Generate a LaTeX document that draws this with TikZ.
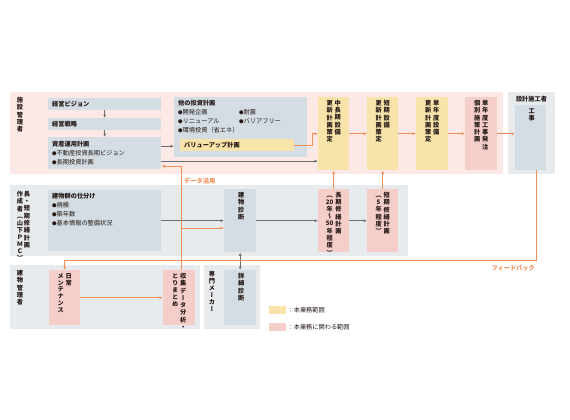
\documentclass[tikz,border=0pt]{standalone}
\usepackage{fontspec}
\setmainfont{Noto Sans CJK JP}
\newfontfamily\vjp[RawFeature=+vert]{Noto Sans CJK JP}
\usetikzlibrary{arrows.meta, positioning}
\definecolor{bandpink}{HTML}{FCE9E5}
\definecolor{bandgray}{HTML}{E8EBEE}
\definecolor{boxgray}{HTML}{D3DDE3}
\definecolor{yellowbox}{HTML}{F8E3AA}
\definecolor{pinkbox}{HTML}{F5CECA}
\definecolor{lineorange}{HTML}{F39058}
\definecolor{arrowgray}{HTML}{6D6E70}
\definecolor{inktext}{HTML}{231815}
\newcommand{\hfont}{\fontsize{6.2}{9}\selectfont}
\newcommand{\tfont}{\fontsize{6.2}{6.9}\selectfont\vjp}
\newcommand{\bul}{\raisebox{0.4pt}{\fontsize{4.5}{4}\selectfont ●}}
\newcommand{\vcol}[1]{\begin{tabular}[t]{@{}c@{}}#1\end{tabular}}
\newcommand{\tatebox}[4]{\parbox[c][#2][t]{#1}{\centering\vspace*{3pt}\tfont\bfseries\vcol{#4}\hspace{2pt}\vcol{#3}}}

\begin{document}
\begin{tikzpicture}[x=1pt, y=-1pt,
    yoko/.style={fill=#1, anchor=north west, inner xsep=4pt, inner ysep=0pt, font=\hfont, text=inktext},
    tate/.style={fill=#1, anchor=north west, inner sep=0pt, text=inktext},
    bandlabel/.style={anchor=north, inner sep=0pt, font=\tfont\bfseries, text=inktext},
    garrow/.style={-{Latex[length=3.5pt, width=3pt]}, draw=arrowgray, line width=0.9pt},
    oarrow/.style={-{Latex[length=3.5pt, width=3pt]}, draw=lineorange, line width=0.9pt},
    olabel/.style={font=\hfont\bfseries, text=lineorange, inner sep=1pt}
]
\useasboundingbox (0,0) rectangle (570,420);

\fill[bandpink] (10,92) rectangle (503,174);
\fill[bandgray] (508,92) rectangle (555,174);
\fill[bandgray] (10,185) rectangle (408,256);
\fill[bandgray] (10,265) rectangle (200,329);
\fill[bandgray] (204,265) rectangle (260,329);

\node[bandlabel] (facility) at (20,97) {\vcol{施\\設\\管\\理\\者}};
\node[bandlabel] (planner) at (23.5,191) {\vcol{作\\成\\者\\（\\山\\下\\Ｐ\\Ｍ\\Ｃ\\）}\hspace{1pt}\vcol{長\\・\\短\\期\\修\\繕\\計\\画}};
\node[bandlabel] (keeper) at (20,270) {\vcol{建\\物\\管\\理\\者}};
\node[bandlabel] (maker) at (212,271) {\vcol{専\\門\\メ\\ー\\カ\\ー}};
\node[anchor=north, inner sep=0pt, font=\hfont\bfseries, text=inktext] (builder) at (531.5,96) {設計施工者};

\node[yoko=boxgray, text width=105pt, minimum height=12pt] (vision) at (48,98) {\textbf{経営ビジョン}};
\node[yoko=boxgray, text width=105pt, minimum height=12pt] (strategy) at (48,118) {\textbf{経営戦略}};
\node[yoko=boxgray, text width=105pt, minimum height=32pt] (asset) at (48,137) {\textbf{資産運用計画}\\\bul 不動産投資長期ビジョン\\\bul 長期投資計画};
\node[yoko=boxgray, inner ysep=3pt] (other) at (174,97) {\parbox[c][54pt][t]{125pt}{\textbf{他の投資計画}\\\makebox[61pt][l]{\bul 開発企画}\bul 耐震\\\makebox[61pt][l]{\bul リニューアル}\bul バリアフリー\\\bul 環境投資（省エネ）}};
\node[yoko=yellowbox, text width=106pt, minimum height=12pt] (valueup) at (180,139) {\textbf{バリューアップ計画}};

\node[tate=yellowbox] (midlong) at (318,97) {\tatebox{31pt}{73pt}{中\\長\\期\\設\\備}{更\\新\\計\\画\\策\\定}};
\node[tate=yellowbox] (shortterm) at (367,97) {\tatebox{31pt}{73pt}{短\\期\\設\\備}{更\\新\\計\\画\\策\\定}};
\node[tate=yellowbox] (annual) at (416,97) {\tatebox{32pt}{73pt}{単\\年\\度\\設\\備}{更\\新\\計\\画\\策\\定}};
\node[tate=pinkbox] (order) at (465,97) {\tatebox{32pt}{73pt}{単\\年\\度\\工\\事\\発\\注}{個\\別\\施\\策\\計\\画}};
\node[tate=boxgray] (koji) at (515,105) {\tatebox{31pt}{65pt}{工\\事}{}};

\node[yoko=boxgray, inner ysep=3pt] (sort) at (48,190) {\parbox[c][55pt][t]{105pt}{\textbf{建物群の仕分け}\\\bul 規模\\\bul 築年数\\\bul 基本情報の整備状況}};
\node[tate=boxgray] (diag) at (224,189) {\tatebox{32pt}{63pt}{建\\物\\診\\断}{}};
\node[tate=pinkbox] (longrep) at (318,189) {\tatebox{31pt}{63pt}{長\\期\\修\\繕\\計\\画}{（\\20\\年\\～\\50\\年\\程\\度\\）}};
\node[tate=pinkbox] (shortrep) at (367,189) {\tatebox{31pt}{63pt}{短\\期\\修\\繕\\計\\画}{（\\5\\年\\程\\度\\）}};

\node[tate=pinkbox] (daily) at (49,270) {\tatebox{31pt}{55pt}{日\\常}{メ\\ン\\テ\\ナ\\ン\\ス}};
\node[tate=pinkbox] (collect) at (163,270) {\tatebox{32pt}{55pt}{収\\集\\デ\\ー\\タ\\分\\析\\・}{と\\り\\ま\\と\\め}};
\node[tate=boxgray] (detail) at (224,270) {\tatebox{32pt}{55pt}{詳\\細\\診\\断}{}};

\node[fill=yellowbox, minimum width=17pt, minimum height=8pt, inner sep=0pt, anchor=north west] (keyown) at (269,306) {};
\node[right=1pt of keyown, inner sep=0pt, font=\hfont, text=inktext] (keyowntext) {：本業務範囲};
\node[fill=pinkbox, minimum width=17pt, minimum height=8pt, inner sep=0pt, anchor=north west] (keyrel) at (269,323) {};
\node[right=1pt of keyrel, inner sep=0pt, font=\hfont, text=inktext] (keyreltext) {：本業務に関わる範囲};

\draw[garrow] (vision) -- (strategy);
\draw[garrow] (strategy) -- (asset);
\draw[garrow] ([yshift=7pt]asset.east) -- ([yshift=7pt]asset.east -| other.west);
\draw[garrow] ([yshift=-8pt]asset.east) -- ([yshift=-8pt]asset.east -| midlong.west);
\draw[oarrow] (valueup.east) -- ++(18,0) |- (midlong.west);
\draw[oarrow] (midlong) -- (shortterm);
\draw[oarrow] (shortterm) -- (annual);
\draw[oarrow] (annual) -- (order);
\draw[oarrow] (order.east) -- (order.east -| koji.west);

\draw[garrow] (sort) -- (diag);
\draw[garrow] (diag) -- (longrep);
\draw[garrow] (longrep) -- (shortrep);
\draw[oarrow] (longrep) -- (midlong);
\draw[oarrow] (shortrep) -- (shortterm);
\draw[garrow, {Latex[length=3.5pt, width=3pt]}-{Latex[length=3.5pt, width=3pt]}] (diag) -- (detail);

\draw[oarrow] (daily) -- (collect);
\draw[oarrow] ([xshift=5.5pt]koji.south) -- ++(0,90) -| (daily.north);
\draw[oarrow] ([xshift=2pt]collect.north) |- ([yshift=-13pt]asset.east);
\coordinate (tap) at (181,228);
\draw[oarrow] (tap) -- (tap -| diag.west);

\node[olabel, anchor=west] (datause) at (183,181) {データ活用};
\node[olabel, anchor=east] (feedback) at (536,268.5) {フィードバック};
\end{tikzpicture}
\end{document}
